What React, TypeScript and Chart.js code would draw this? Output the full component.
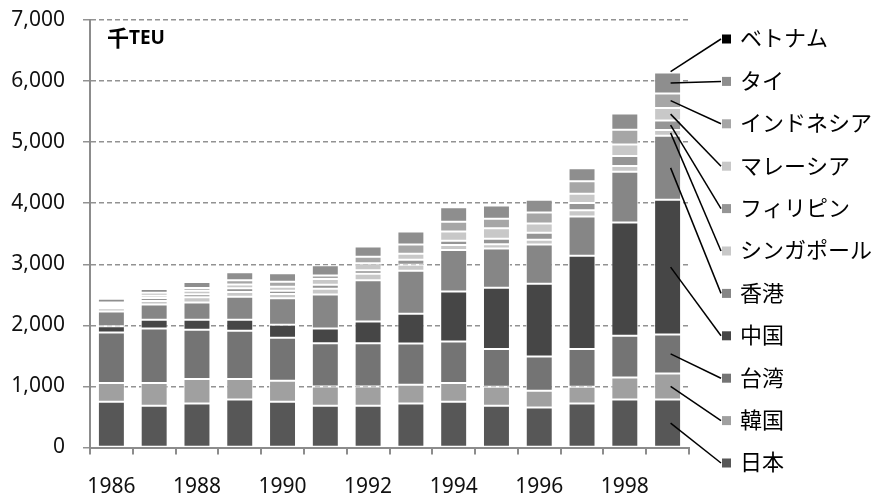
import React, { useEffect, useRef } from "react";
import { Chart, registerables } from "chart.js";

Chart.register(...registerables);

const years = ["1986","1987","1988","1989","1990","1991","1992","1993","1994","1995","1996","1997","1998","1999"];
const yTicks = [0, 1000, 2000, 3000, 4000, 5000, 6000, 7000];
const unitLabel = "千TEU";

const japan       = [750, 685, 720, 785, 750, 685, 685, 720, 750, 685, 655, 720, 785, 785];
const korea       = [305, 370, 400, 335, 345, 315, 315, 307, 305, 310, 274, 275, 363, 428];
const taiwan      = [830, 895, 808, 791, 703, 709, 709, 677, 682, 616, 562, 616, 681, 639];
const china       = [100, 140, 163, 180, 213, 241, 355, 485, 818, 1004, 1189, 1527, 1856, 2203];
const hongkong    = [240, 250, 284, 377, 432, 556, 676, 704, 677, 644, 645, 645, 829, 1048];
const singapore   = [55, 60, 85, 80, 70, 94, 104, 98, 84, 71, 75, 101, 97, 97];
const philippines = [30, 50, 50, 60, 55, 64, 59, 82, 69, 87, 116, 118, 161, 156];
const malaysia    = [30, 40, 55, 60, 65, 94, 113, 98, 153, 175, 153, 155, 188, 205];
const indonesia   = [35, 45, 45, 70, 80, 59, 108, 155, 159, 153, 180, 203, 241, 237];
const thailand    = [60, 60, 100, 130, 140, 168, 168, 212, 238, 218, 206, 214, 269, 342];
const vietnam     = [0, 0, 0, 0, 0, 0, 0, 0, 0, 0, 0, 5, 10, 15];

const seriesNames = ["日本","韓国","台湾","中国","香港","シンガポール","フィリピン","マレーシア","インドネシア","タイ","ベトナム"];
const seriesData = [japan, korea, taiwan, china, hongkong, singapore, philippines, malaysia, indonesia, thailand, vietnam];
const seriesColors = ["#575757","#a0a0a0","#747474","#464646","#868686","#c8c8c8","#959595","#c8c8c8","#a6a6a6","#8e8e8e","#000000"];

const NUM_FONT = '"Noto Sans", "DejaVu Sans", sans-serif';
const JP_FONT = '"Noto Sans CJK JP", sans-serif';

const overlay = {
  id: "overlay",
  afterDatasetsDraw(chart: any) {
    const ctx = chart.ctx;
    const last = years.length - 1;
    const n = seriesNames.length;
    const legendX = 722;
    const legendTop = 38;
    const legendGap = 42.4;
    ctx.save();
    ctx.fillStyle = "#000";
    ctx.textBaseline = "middle";
    ctx.textAlign = "left";
    ctx.font = 'bold 22px ' + JP_FONT;
    ctx.fillText(unitLabel.slice(0, 1), 107, 38);
    const w = ctx.measureText(unitLabel.slice(0, 1)).width;
    ctx.font = 'bold 19px ' + NUM_FONT;
    ctx.fillText(unitLabel.slice(1), 107 + w, 39);

    for (let i = 0; i < n; i++) {
      const row = n - 1 - i;
      const ry = legendTop + row * legendGap;
      const el = chart.getDatasetMeta(i).data[last];
      const p = el.getProps(["x", "y", "base"], true);
      const sy = i === n - 1 ? p.y : (p.y + p.base) / 2;
      ctx.strokeStyle = "#000";
      ctx.lineWidth = 1.5;
      ctx.beginPath();
      ctx.moveTo(p.x + 3, sy);
      ctx.lineTo(legendX - 1, ry + 1);
      ctx.stroke();
      ctx.fillStyle = seriesColors[i];
      ctx.fillRect(legendX, ry - 3.5, 9, 9);
      ctx.fillStyle = "#000";
      ctx.font = '22px ' + JP_FONT;
      ctx.textBaseline = "middle";
      ctx.fillText(seriesNames[i], legendX + 18, ry);
    }
    ctx.restore();
  },
};

export default function App() {
  const ref = useRef<HTMLCanvasElement | null>(null);
  useEffect(() => {
    if (!ref.current) return;
    const chart = new Chart(ref.current, {
      type: "bar",
      data: {
        labels: years,
        datasets: seriesNames.map((name, i) => ({
          label: name,
          data: seriesData[i],
          backgroundColor: seriesColors[i],
          borderColor: "#ffffff",
          borderWidth: 1,
          borderSkipped: false,
          categoryPercentage: 1,
          barPercentage: 0.63,
        })),
      },
      options: {
        animation: false,
        responsive: false,
        devicePixelRatio: 1,
        layout: { padding: { top: 20, right: 187, left: 0, bottom: 0 } },
        plugins: { legend: { display: false }, tooltip: { enabled: false } },
        scales: {
          x: {
            stacked: true,
            grid: { offset: true, drawOnChartArea: false, color: "#8c8c8c", lineWidth: 2, tickLength: 7 },
            border: { color: "#8c8c8c", width: 2 },
            ticks: {
              autoSkip: false,
              maxRotation: 0,
              padding: 20,
              color: "#111",
              font: { family: NUM_FONT, size: 21 },
              callback: (_v: any, i: number) => (i % 2 === 0 ? years[i] : ""),
            },
            afterFit: (s: any) => { s.height = 51.5; s.paddingLeft = 0; s.paddingRight = 0; },
          },
          y: {
            stacked: true,
            min: yTicks[0],
            max: yTicks[yTicks.length - 1],
            afterBuildTicks: (s: any) => { s.ticks = yTicks.map((v) => ({ value: v })); },
            ticks: {
              padding: 18,
              color: "#111",
              font: { family: NUM_FONT, size: 21 },
              callback: (v: any) => Number(v).toLocaleString("en-US"),
            },
            grid: { color: "#929292", lineWidth: 1.5, tickLength: 7, tickColor: "#929292" },
            border: { dash: [5, 3], color: "#8c8c8c", width: 2 },
            afterFit: (s: any) => { s.width = 90; s.paddingTop = 0; s.paddingBottom = 0; },
          },
        },
      },
      plugins: [overlay],
    } as any);
    return () => chart.destroy();
  }, []);
  return (
    <div style={{ position: "fixed", left: 0, top: 0, width: 876, height: 499, background: "#fff" }}>
      <canvas ref={ref} width={876} height={499} />
    </div>
  );
}
